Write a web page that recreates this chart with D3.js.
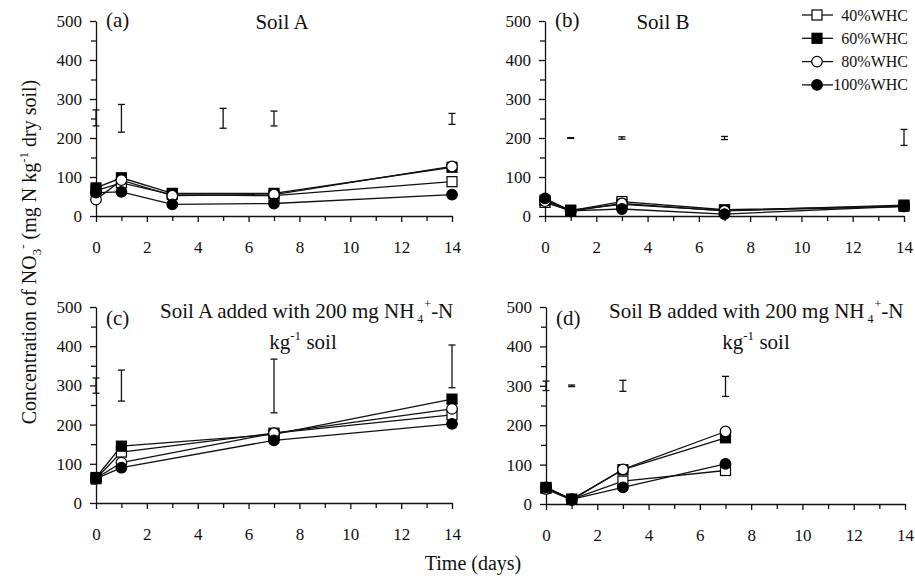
<!DOCTYPE html>
<html><head><meta charset="utf-8">
<script src="https://cdn.jsdelivr.net/npm/d3@7"></script>
<style>
body{margin:0;background:#fff;}
svg text{font-family:"Liberation Serif","Times New Roman",serif;fill:#111;}
</style></head>
<body><svg id="chart" width="915" height="581"></svg>
<script>
// ---------- data ----------
const seriesNames = ["40%WHC","60%WHC","80%WHC","100%WHC"];
const xTicks = [0,2,4,6,8,10,12,14];
const yTicks = [0,100,200,300,400,500];

const daysA = [0,1,3,7,14];
const a40  = [65, 85, 55, 52, 88];
const a60  = [72, 98, 58, 58, 125];
const a80  = [42, 92, 52, 55, 127];
const a100 = [60, 62, 30, 32, 55];
const errAx  = [0,1,5,7,14];
const errAlo = [231,215,225,231,235];
const errAhi = [272,286,276,269,263];

const daysB = [0,1,3,7,14];
const b40  = [35, 14, 37, 16, 25];
const b60  = [40, 15, 30, 14, 28];
const b80  = [38, 12, 32, 13, 25];
const b100 = [45, 13, 18, 5, 25];
const errBx  = [1,3,7,14];
const errBlo = [199,197,196,181];
const errBhi = [201,203,204,222];

const daysC = [0,1,7,14];
const c40  = [62, 130, 178, 225];
const c60  = [65, 145, 175, 265];
const c80  = [63, 103, 178, 240];
const c100 = [62, 90, 160, 202];
const errCx  = [0,1,7,14];
const errClo = [280,260,230,294];
const errChi = [319,339,367,403];

const daysD = [0,1,3,7];
const d40  = [40, 12, 58, 85];
const d60  = [42, 12, 87, 168];
const d80  = [38, 10, 88, 184];
const d100 = [42, 12, 42, 102];
const errDx  = [0,1,3,7];
const errDlo = [288,298,286,273];
const errDhi = [312,302,314,324];

// ---------- layout ----------
const svg = d3.select("#chart");
const panels = [
  {days:daysA, vals:[a40,a60,a80,a100], ex:errAx, elo:errAlo, ehi:errAhi, x0:96,  x1:452, y0:216, y1:21,  tag:"(a)"},
  {days:daysB, vals:[b40,b60,b80,b100], ex:errBx, elo:errBlo, ehi:errBhi, x0:545, x1:904, y0:216, y1:21,  tag:"(b)"},
  {days:daysC, vals:[c40,c60,c80,c100], ex:errCx, elo:errClo, ehi:errChi, x0:96,  x1:452, y0:503, y1:307, tag:"(c)"},
  {days:daysD, vals:[d40,d60,d80,d100], ex:errDx, elo:errDlo, ehi:errDhi, x0:546, x1:905, y0:504, y1:307, tag:"(d)"}
];

function drawMarker(g, type, x, y){
  const fill = (type===1||type===3) ? "#000" : "#fff";
  if(type<2){
    g.append("rect").attr("x",x-5).attr("y",y-5).attr("width",10).attr("height",10)
      .attr("fill",fill).attr("stroke","#000").attr("stroke-width",1.2);
  } else {
    g.append("circle").attr("cx",x).attr("cy",y).attr("r",5.3)
      .attr("fill",fill).attr("stroke","#000").attr("stroke-width",1.2);
  }
}

panels.forEach((p,pi)=>{
  const x = d3.scaleLinear().domain([0,14]).range([p.x0,p.x1]);
  const y = d3.scaleLinear().domain([0,500]).range([p.y0,p.y1]);
  const g = svg.append("g");

  // y axis
  g.append("g").attr("transform",`translate(${p.x0},0)`)
    .call(d3.axisLeft(y).tickValues(yTicks).tickSize(6).tickSizeOuter(0).tickPadding(8));
  g.append("g").attr("transform",`translate(${p.x0},0)`)
    .call(d3.axisLeft(y).tickValues(d3.range(50,500,100)).tickSize(5).tickSizeOuter(0).tickFormat(""))
    .select(".domain").remove();
  // x axis
  g.append("g").attr("transform",`translate(0,${p.y0})`)
    .call(d3.axisBottom(x).tickValues(xTicks).tickSize(6).tickSizeOuter(0).tickPadding(19));
  g.append("g").attr("transform",`translate(0,${p.y0})`)
    .call(d3.axisBottom(x).tickValues(d3.range(1,14,2)).tickSize(5).tickSizeOuter(0).tickFormat(""))
    .select(".domain").remove();
  g.selectAll(".tick text").attr("font-size",17).attr("fill","#111");
  g.selectAll(".domain,.tick line").attr("stroke","#111").attr("stroke-width",1.3);

  // error bars
  p.ex.forEach((ex,i)=>{
    const xx = x(ex), ylo = y(p.elo[i]), yhi = y(p.ehi[i]);
    const eb = g.append("g").attr("stroke","#111").attr("stroke-width",1.3);
    eb.append("line").attr("x1",xx).attr("x2",xx).attr("y1",ylo).attr("y2",yhi);
    eb.append("line").attr("x1",xx-3.5).attr("x2",xx+3.5).attr("y1",ylo).attr("y2",ylo);
    eb.append("line").attr("x1",xx-3.5).attr("x2",xx+3.5).attr("y1",yhi).attr("y2",yhi);
  });

  // lines
  const line = d3.line().x(d=>x(d[0])).y(d=>y(d[1]));
  p.vals.forEach(v=>{
    g.append("path").datum(p.days.map((d,i)=>[d,v[i]])).attr("d",line)
      .attr("fill","none").attr("stroke","#111").attr("stroke-width",1.3);
  });
  p.vals.forEach((v,si)=>{
    p.days.forEach((d,i)=>drawMarker(g, si, x(d), y(v[i])));
  });

  // tag
  g.append("text").attr("x",p.x0+10).attr("y",p.y1+(pi<2?6:18)).attr("font-size",21).text(p.tag);
});

// titles
svg.append("text").attr("x",282).attr("y",29).attr("text-anchor","middle").attr("font-size",21).text("Soil A");
svg.append("text").attr("x",663).attr("y",29).attr("text-anchor","middle").attr("font-size",21).text("Soil B");

function nhTitle(xStart, yBase, name){
  const t = svg.append("text").attr("x",xStart).attr("y",yBase).attr("font-size",21);
  t.append("tspan").text(name + " added with 200 mg NH");
  t.append("tspan").attr("font-size",12).attr("dx",3).attr("dy",5).text("4");
  t.append("tspan").attr("font-size",12).attr("dx",1).attr("dy",-15).text("+");
  t.append("tspan").attr("dy",10).text("-N");
}
nhTitle(160, 318, "Soil A");
nhTitle(609, 318, "Soil B");
function kgSoil(cx, yBase){
  const t = svg.append("text").attr("x",cx).attr("y",yBase).attr("font-size",21).attr("text-anchor","middle");
  t.append("tspan").text("kg");
  t.append("tspan").attr("font-size",13).attr("dy",-9).text("-1");
  t.append("tspan").attr("dy",9).text(" soil");
}
kgSoil(303, 349);
kgSoil(756, 349);

// axis titles
svg.append("text").attr("x",473).attr("y",570).attr("text-anchor","middle").attr("font-size",20).text("Time (days)");
const yt = svg.append("text").attr("transform","translate(36,252) rotate(-90)")
  .attr("text-anchor","middle").attr("font-size",20);
yt.append("tspan").text("Concentration of NO");
yt.append("tspan").attr("font-size",13).attr("dy",5).text("3");
yt.append("tspan").attr("font-size",13).attr("dy",-14).text("-");
yt.append("tspan").attr("dy",9).text(" (mg N kg");
yt.append("tspan").attr("font-size",13).attr("dy",-8).text("-1");
yt.append("tspan").attr("dy",8).text(" dry soil)");

// legend
const lg = svg.append("g");
seriesNames.forEach((n,i)=>{
  const ly = 15 + i*23.3;
  lg.append("line").attr("x1",802).attr("x2",833).attr("y1",ly).attr("y2",ly).attr("stroke","#111").attr("stroke-width",1.3);
  drawMarker(lg, i, 817, ly);
  lg.append("text").attr("x",908).attr("y",ly+5.5).attr("text-anchor","end").attr("font-size",16).text(n);
});
</script></body></html>
